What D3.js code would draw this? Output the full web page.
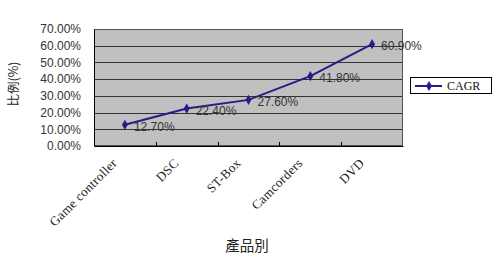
<!DOCTYPE html>
<html><head><meta charset="utf-8">
<script src="https://cdn.jsdelivr.net/npm/d3@7"></script>
<style>body{margin:0;background:#fff}svg{display:block}</style>
</head><body>
<script>
const categories = ["Game controller", "DSC", "ST-Box", "Camcorders", "DVD"];
const cagr = [12.7, 22.4, 27.6, 41.8, 60.9];
const yTicks = [0, 10, 20, 30, 40, 50, 60, 70];
const seriesName = "CAGR";

const W = 500, H = 255;
const m = {left: 94, top: 29, right: 403, bottom: 146};
const svg = d3.select("body").append("svg").attr("width", W).attr("height", H);

const x = d3.scaleBand().domain(categories).range([m.left, m.right]);
const y = d3.scaleLinear().domain([0, 70]).range([m.bottom, m.top]);
const lineColor = "#2b1a86";

// plot area
svg.append("rect").attr("x", m.left).attr("y", m.top)
  .attr("width", m.right - m.left).attr("height", m.bottom - m.top)
  .attr("fill", "#c0c0c0");

// gridlines
svg.append("g").selectAll("line").data(yTicks.slice(1)).join("line")
  .attr("x1", m.left).attr("x2", m.right)
  .attr("y1", d => Math.round(y(d)) + 0.5).attr("y2", d => Math.round(y(d)) + 0.5)
  .attr("stroke", "#333").attr("stroke-width", 1);

svg.append("rect").attr("x", m.left + 0.5).attr("y", m.top + 0.5)
  .attr("width", m.right - m.left - 1).attr("height", m.bottom - m.top - 1)
  .attr("fill", "none").attr("stroke", "#555");

// y axis
const yAxis = d3.axisLeft(y).tickValues(yTicks).tickSize(0).tickPadding(13)
  .tickFormat(d => d.toFixed(2) + "%");
const gy = svg.append("g").attr("transform", `translate(${m.left},0)`).call(yAxis);
gy.select(".domain").attr("stroke", "#000");
gy.selectAll("text").attr("font-family", "Liberation Sans, Arial, sans-serif")
  .attr("font-size", 12).attr("fill", "#333");

// x axis
const xAxis = d3.axisBottom(x).tickSize(0).tickFormat("");
const gx = svg.append("g").attr("transform", `translate(0,${m.bottom})`).call(xAxis);
gx.select(".domain").attr("stroke", "#000");
gx.selectAll(".tick").remove();
svg.append("g").selectAll("line").data(categories.slice(1)).join("line")
  .attr("x1", d => Math.round(x(d)) + 0.5).attr("x2", d => Math.round(x(d)) + 0.5)
  .attr("y1", m.bottom).attr("y2", m.bottom - 4).attr("stroke", "#000");

// category labels, rotated
svg.append("g").selectAll("text").data(categories).join("text")
  .attr("transform", d => `translate(${x(d) + x.bandwidth() / 2 - 7},${m.bottom + 18}) rotate(-45)`)
  .attr("text-anchor", "end")
  .attr("font-family", "Liberation Serif, Times New Roman, serif")
  .attr("font-size", 13).attr("letter-spacing", 0.3).attr("fill", "#222")
  .text(d => d);

// line + markers
const cx = d => x(d) + x.bandwidth() / 2;
const pts = categories.map((c, i) => [cx(c), y(cagr[i])]);
svg.append("path").attr("d", d3.line()(pts)).attr("fill", "none")
  .attr("stroke", lineColor).attr("stroke-width", 2);
svg.append("g").selectAll("path").data(pts).join("path")
  .attr("d", d3.symbol(d3.symbolDiamond, 30))
  .attr("transform", d => `translate(${d[0]},${d[1]})`)
  .attr("fill", lineColor);

// data labels
svg.append("g").selectAll("text").data(categories).join("text")
  .attr("x", (d) => cx(d) + 9)
  .attr("y", (d, i) => y(cagr[i]) + 6)
  .attr("font-family", "Liberation Sans, Arial, sans-serif")
  .attr("font-size", 12).attr("fill", "#333")
  .text((d, i) => cagr[i].toFixed(2) + "%");

// axis titles
svg.append("text").attr("transform", "translate(18,84) rotate(-90)")
  .attr("text-anchor", "middle").attr("font-family", "Noto Sans CJK TC")
  .attr("font-size", 12.5).attr("fill", "#222").text("比例(%)");
svg.append("text").attr("x", 247).attr("y", 251)
  .attr("text-anchor", "middle").attr("font-family", "Noto Sans CJK TC")
  .attr("font-size", 14.5).attr("fill", "#222").text("產品別");

// legend
const lg = svg.append("g").attr("transform", "translate(410,77)");
lg.append("rect").attr("x", 0.5).attr("y", 0.5).attr("width", 81).attr("height", 16)
  .attr("fill", "#fff").attr("stroke", "#000");
lg.append("line").attr("x1", 5).attr("x2", 32).attr("y1", 9).attr("y2", 9)
  .attr("stroke", lineColor).attr("stroke-width", 2);
lg.append("path").attr("d", d3.symbol(d3.symbolDiamond, 30))
  .attr("transform", "translate(19,9)").attr("fill", lineColor);
lg.append("text").attr("x", 37).attr("y", 13)
  .attr("font-family", "Liberation Serif, Times New Roman, serif")
  .attr("font-size", 12).attr("fill", "#111").text(seriesName);
</script>
</body></html>
